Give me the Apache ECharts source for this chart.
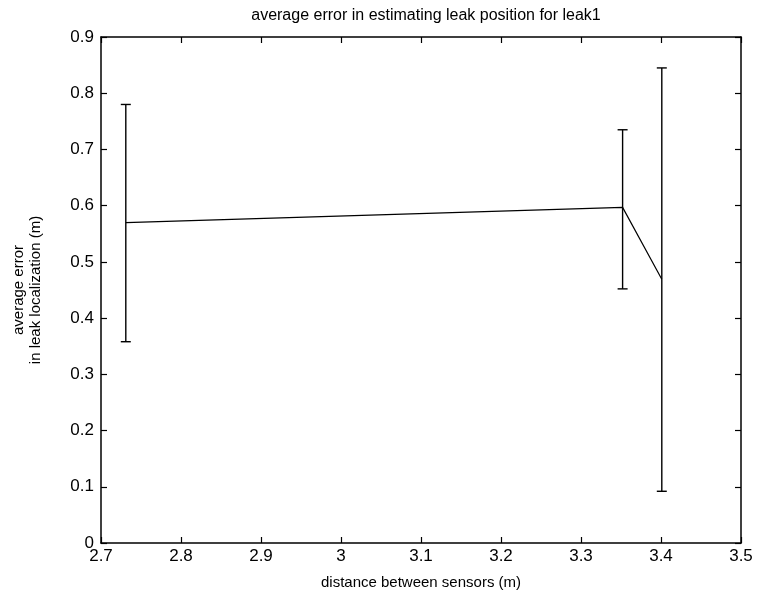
<!DOCTYPE html>
<html>
<head>
<meta charset="utf-8">
<script src="https://cdn.jsdelivr.net/npm/echarts@6/dist/echarts.min.js"></script>
<style>
  html, body { margin: 0; padding: 0; background: #fff; }
  #chart { width: 757px; height: 599px; }
</style>
</head>
<body>
<div id="chart"></div>
<script>
// Sensor spacing (m) and the mean / spread of the leak localization error (m)
const distances = [2.731, 3.352, 3.401];
const meanError = [0.570, 0.597, 0.469];
const lowerError = [0.358, 0.452, 0.092];
const upperError = [0.780, 0.735, 0.845];

const xTicks = [2.7, 2.8, 2.9, 3.0, 3.1, 3.2, 3.3, 3.4, 3.5];
const yTicks = [0, 0.1, 0.2, 0.3, 0.4, 0.5, 0.6, 0.7, 0.8, 0.9];

const FONT = '"Liberation Sans Narrow", "Liberation Sans", Arial, sans-serif';
const INK = '#000';

const fmt = v => String(parseFloat(Number(v).toFixed(2)));

const linePts = distances.map((d, i) => [d, meanError[i]]);
const barPts = distances.map((d, i) => [d, lowerError[i], upperError[i]]);

const chart = echarts.init(document.getElementById('chart'), null, { renderer: 'canvas' });

const baseX = {
  type: 'value', min: xTicks[0], max: xTicks[xTicks.length - 1], interval: 0.1,
  axisLine: { show: true, onZero: false, lineStyle: { color: INK, width: 1.5 } },
  axisTick: { show: true, inside: true, length: 6, lineStyle: { color: INK, width: 1.2 } },
  splitLine: { show: false }
};
const baseY = {
  type: 'value', min: yTicks[0], max: yTicks[yTicks.length - 1], interval: 0.1,
  axisLine: { show: true, onZero: false, lineStyle: { color: INK, width: 1.5 } },
  axisTick: { show: true, inside: true, length: 6, lineStyle: { color: INK, width: 1.2 } },
  splitLine: { show: false }
};

chart.setOption({
  animation: false,
  backgroundColor: '#fff',
  title: {
    text: 'average error in estimating leak position for leak1',
    left: 421, top: 3, textAlign: 'center',
    textStyle: { fontFamily: FONT, fontSize: 16, fontWeight: 'normal', color: INK }
  },
  grid: { left: 101, right: 16, top: 37, bottom: 56, containLabel: false },
  xAxis: [
    Object.assign({}, baseX, {
      position: 'bottom',
      axisLabel: { show: true, margin: 5, fontFamily: FONT, fontSize: 17, color: INK, formatter: fmt },
      name: 'distance between sensors (m)', nameLocation: 'middle', nameGap: 32,
      nameTextStyle: { fontFamily: FONT, fontSize: 15, color: INK }
    }),
    Object.assign({}, baseX, { position: 'top', axisLabel: { show: false } })
  ],
  yAxis: [
    Object.assign({}, baseY, {
      position: 'left',
      axisLabel: { show: true, margin: 7, fontFamily: FONT, fontSize: 17, color: INK, formatter: fmt },
      name: 'average error\nin leak localization (m)', nameLocation: 'middle', nameGap: 57,
      nameTextStyle: { fontFamily: FONT, fontSize: 15, color: INK, lineHeight: 17 }
    }),
    Object.assign({}, baseY, { position: 'right', axisLabel: { show: false } })
  ],
  series: [
    {
      type: 'line', data: linePts, xAxisIndex: 0, yAxisIndex: 0,
      symbol: 'none', lineStyle: { color: INK, width: 1.2 }, z: 3
    },
    {
      type: 'custom', data: barPts, xAxisIndex: 0, yAxisIndex: 0, z: 4,
      renderItem: function (params, api) {
        const x = api.value(0);
        const lo = api.coord([x, api.value(1)]);
        const hi = api.coord([x, api.value(2)]);
        const half = 5;
        const style = { stroke: INK, lineWidth: 1.4 };
        return {
          type: 'group',
          children: [
            { type: 'line', shape: { x1: lo[0], y1: lo[1], x2: hi[0], y2: hi[1] }, style: style },
            { type: 'line', shape: { x1: lo[0] - half, y1: lo[1], x2: lo[0] + half, y2: lo[1] }, style: style },
            { type: 'line', shape: { x1: hi[0] - half, y1: hi[1], x2: hi[0] + half, y2: hi[1] }, style: style }
          ]
        };
      }
    }
  ]
});
</script>
</body>
</html>
